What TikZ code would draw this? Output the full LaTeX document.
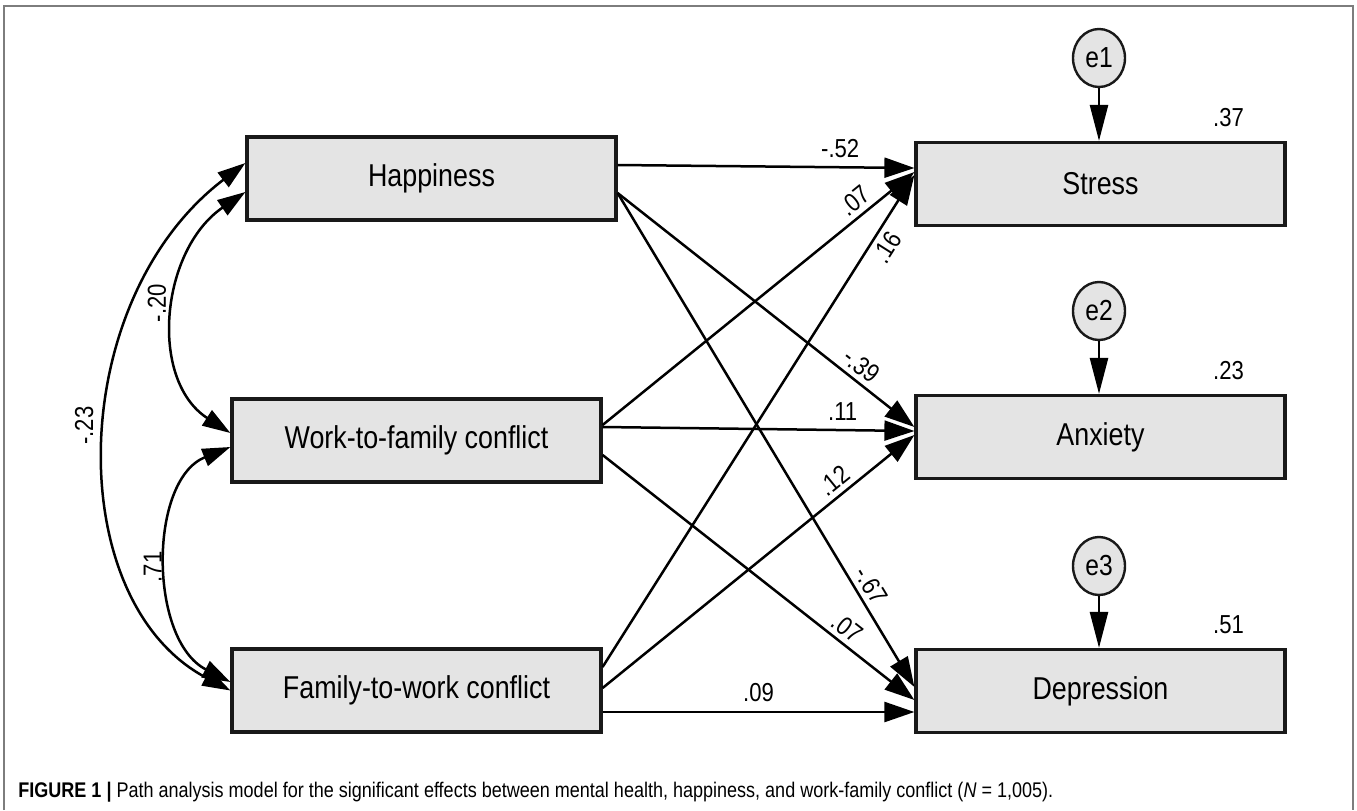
\documentclass[tikz,border=0pt]{standalone}
\usepackage{fontspec}
\setmainfont{Liberation Sans}[FakeStretch=0.85]
\usetikzlibrary{positioning,arrows.meta,shapes.geometric}
\definecolor{boxgray}{RGB}{228,228,228}
\definecolor{framegray}{RGB}{125,125,125}

\begin{document}
\begin{tikzpicture}[x=0.5pt,y=-0.5pt,
  var/.style={draw=black!90,line width=1.6pt,fill=boxgray,minimum width=184.5pt,minimum height=41.5pt,inner sep=0pt,font=\fontsize{15.8}{18}\selectfont},
  err/.style={ellipse,draw=black!90,line width=1.2pt,fill=boxgray,minimum width=26pt,minimum height=29pt,inner sep=0pt,font=\fontsize{14.5}{16}\selectfont},
  eff/.style={-{Triangle[length=15pt,width=10pt]},line width=1.25pt},
  res/.style={-{Triangle[length=18pt,width=9pt]},line width=1.25pt},
  cov/.style={{Triangle[length=14pt,width=9pt]}-{Triangle[length=14pt,width=9pt]},line width=1.25pt},
  coef/.style={font=\fontsize{13}{15}\selectfont,inner sep=1.5pt}]
\useasboundingbox (0,0) rectangle (1357,810);
\draw[framegray,line width=1pt] (4,810) -- (4,6) -- (1353,6) -- (1353,810);
% predictors
\node[var] (hap) at (431.5,178.5) {Happiness};
\node[var] (wtf) at (416.5,440.5) {Work-to-family conflict};
\node[var] (ftw) at (416.5,690.5) {Family-to-work conflict};
% outcomes
\node[var] (str) at (1100.5,184) {Stress};
\node[var] (anx) at (1100.5,437) {Anxiety};
\node[var] (dep) at (1100.5,691) {Depression};
% residuals and R^2
\foreach \e/\v/\y/\rsq in {e1/str/58/.37, e2/anx/311/.23, e3/dep/566/.51} {
  \node[err] (\e) at (1099,\y) {\e};
  \draw[res] (\e.south) -- (\e.south |- \v.north);
  \node[coef] at ([xshift=-29pt,yshift=11.5pt]\v.north east) {\rsq};
}
% correlations
\draw[cov] ([yshift=0pt]ftw.west) .. controls +(-170,-90) and +(-180,137) .. ([yshift=7.75pt]hap.west)
  node[coef,pos=0.53,rotate=90,anchor=south,yshift=5pt] {-.23};
\draw[cov] ([yshift=-6.75pt]hap.west) .. controls +(-85,58) and +(-82,-53) .. ([yshift=3.75pt]wtf.west)
  node[coef,pos=0.46,rotate=90,anchor=south,yshift=3pt] {-.20};
\draw[cov] ([yshift=-3.25pt]wtf.west) .. controls +(-82,33) and +(-82,-42) .. ([yshift=4.25pt]ftw.west)
  node[coef,pos=0.52,rotate=90,anchor=south,yshift=1.5pt] {.71};
% direct effects
\draw[eff] ([yshift=6.75pt]hap.east) -- ([yshift=8pt]str.west) node[coef,pos=0.75,above=2.5pt] {-.52};
\draw[eff] ([yshift=-7.25pt]hap.east) -- ([yshift=5pt]anx.west) node[coef,pos=0.79,sloped,above=1pt] {-.39};
\draw[eff] ([yshift=-7.25pt]hap.east) -- ([yshift=2pt]dep.west) node[coef,pos=0.81,sloped,above=1pt] {-.67};
\draw[eff] ([yshift=7.75pt]wtf.east) -- ([yshift=6pt]str.west) node[coef,pos=0.84,sloped,above=1pt] {.07};
\draw[eff] ([yshift=6.75pt]wtf.east) -- ([yshift=3pt]anx.west) node[coef,pos=0.77,above=2.5pt] {.11};
\draw[eff] ([yshift=-7.25pt]wtf.east) -- ([yshift=-4.5pt]dep.west) node[coef,pos=0.755,sloped,above=1pt] {.07};
\draw[eff] ([yshift=11.75pt]ftw.east) -- ([yshift=4.5pt]str.west) node[coef,pos=0.87,sloped,below=1pt] {.16};
\draw[eff] ([yshift=1.25pt]ftw.east) -- ([yshift=1pt]anx.west) node[coef,pos=0.773,sloped,above=1pt] {.12};
\draw[eff] ([yshift=-10.75pt]ftw.east) -- ([yshift=-10.5pt]dep.west) node[coef,pos=0.5,above=3pt] {.09};
% caption
\node[anchor=west,inner sep=0pt,font=\fontsize{10.6}{12}\selectfont] (cap) at (18,792)
  {\textbf{FIGURE 1 |} Path analysis model for the significant effects between mental health, happiness, and work-family conflict (\textit{N} = 1,005).};
\end{tikzpicture}
\end{document}
